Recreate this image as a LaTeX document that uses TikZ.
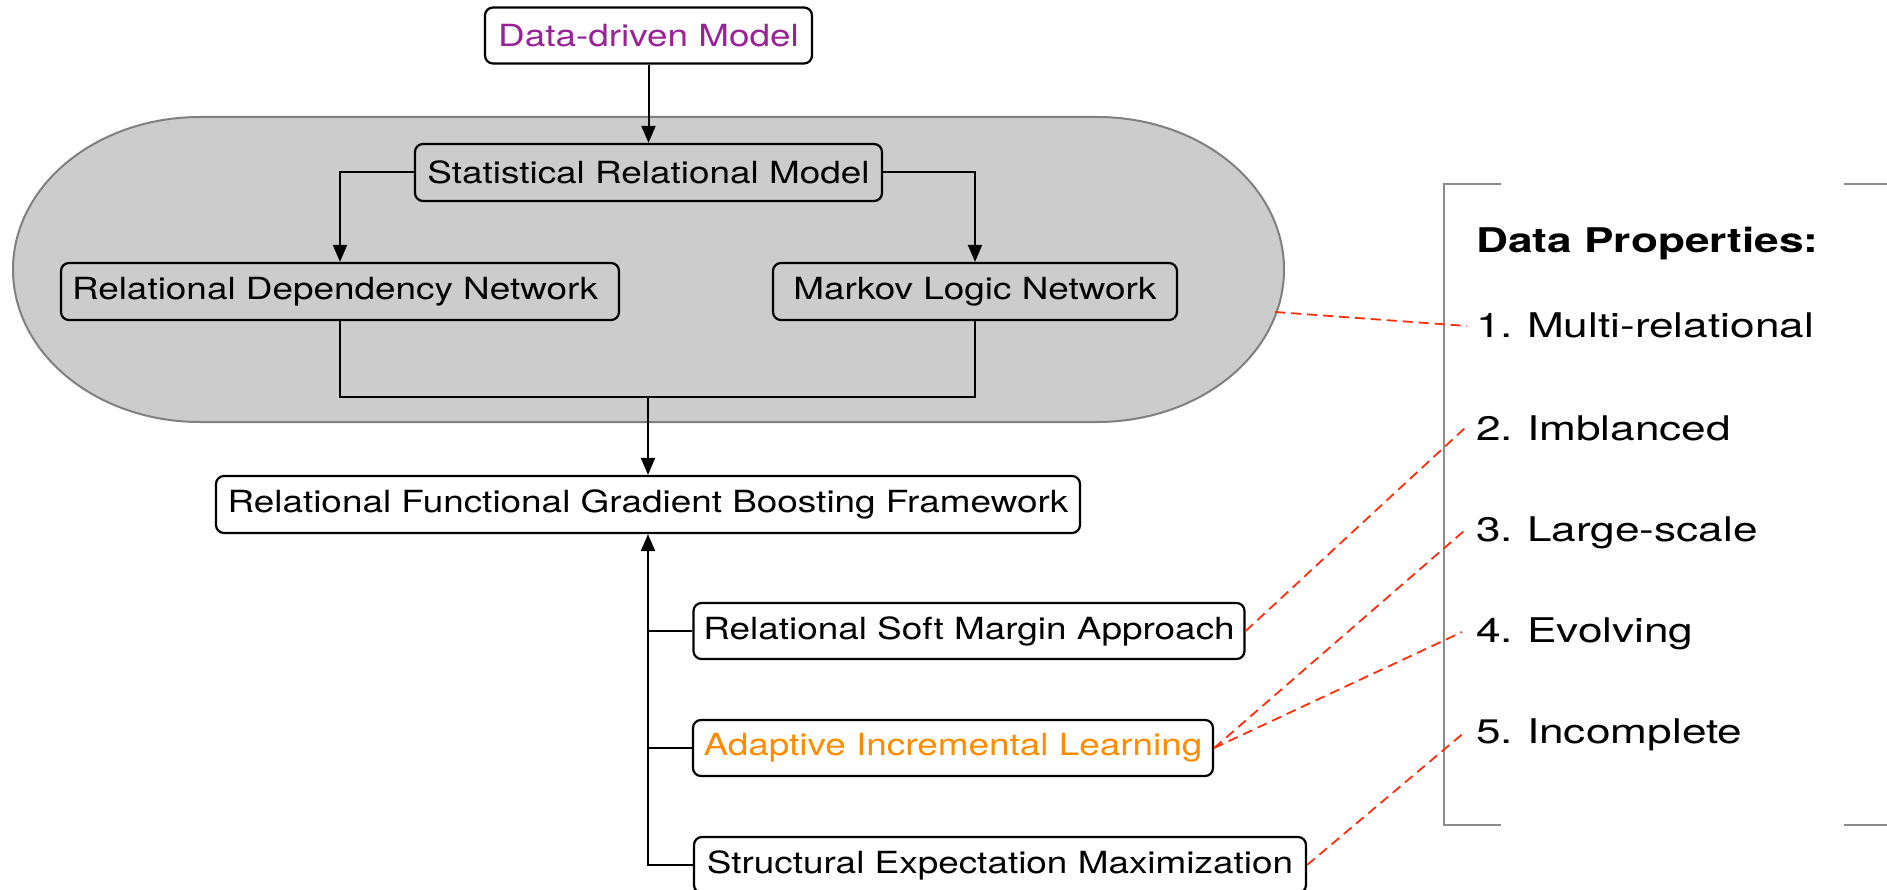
\documentclass[tikz,border=0pt]{standalone}
\usepackage{fontspec}
\usetikzlibrary{arrows.meta}
\newfontfamily\boxfont[FakeStretch=1.21]{TeX Gyre Heros}
\newfontfamily\propfont[FakeStretch=1.3]{TeX Gyre Heros}
\definecolor{ddpurple}{RGB}{153,34,153}
\definecolor{ailorange}{RGB}{255,140,0}
\definecolor{linkred}{RGB}{255,45,10}
\definecolor{srmfill}{RGB}{204,204,204}
\definecolor{srmedge}{RGB}{128,128,128}
\definecolor{bracketgray}{RGB}{140,140,140}
\newcommand{\numgap}{\hspace{14pt}}

\begin{document}
\begin{tikzpicture}[x=1pt,y=-1pt,
  box/.style={draw=black, line width=2.2pt, rounded corners=8pt, inner sep=0pt,
              minimum height=56pt, font=\boxfont\fontsize{30.5}{36}\selectfont},
  conn/.style={line width=2pt, draw=black},
  arr/.style={conn, -{Triangle[length=17pt,width=14pt]}},
  link/.style={draw=linkred, line width=1.8pt, dash pattern=on 10pt off 6pt},
  prop/.style={anchor=base west, inner sep=0pt, font=\propfont\fontsize{34}{40}\selectfont},
  bracket/.style={draw=bracketgray, line width=2pt},
]
\useasboundingbox (0,0) rectangle (1887,890);

% grey capsule grouping the statistical relational models
\draw[fill=srmfill, draw=srmedge, line width=2pt]
  (200,117) -- (1097,117)
  arc[start angle=-90, end angle=90, x radius=187, y radius=152.5]
  -- (200,422)
  arc[start angle=90, end angle=270, x radius=187, y radius=152.5]
  -- cycle;

% model boxes
\node[box, minimum width=327pt, text=ddpurple] (DDM) at (648.5,35.5) {Data-driven Model};
\node[box, minimum width=467pt, minimum height=57pt] (SRM) at (648.5,172.5) {Statistical Relational Model};
\node[box, minimum height=57pt, text width=536pt, inner xsep=11pt, align=left] (RDN) at (340,291.5) {Relational Dependency Network};
\node[box, minimum width=404pt, minimum height=57pt] (MLN) at (975,291.5) {Markov Logic Network};
\node[box, minimum width=864pt, minimum height=57pt] (RFGB) at (648,504.5) {Relational Functional Gradient Boosting Framework};
\node[box, minimum width=551pt] (RSMA) at (969,631) {Relational Soft Margin Approach};
\node[box, minimum width=520pt, text=ailorange] (AIL) at (953,748) {Adaptive Incremental Learning};
\node[box, minimum width=612pt] (SEM) at (1000,865) {Structural Expectation Maximization};

% connectors
\draw[arr] (DDM) -- (SRM);
\draw[arr] (SRM.west) -| (RDN.north);
\draw[arr] (SRM.east) -| (MLN.north);
\coordinate (J) at (648,397);
\draw[conn] (RDN.south) |- (J) -| (MLN.south);
\draw[arr] (J) -- (RFGB.north);
\draw[arr] (SEM.west) -| (RFGB.south);
\draw[conn] (RSMA.west) -- (RSMA.west -| RFGB.south);
\draw[conn] (AIL.west) -- (AIL.west -| RFGB.south);

% data properties panel
\draw[bracket] (1501,184) -- (1444,184) -- (1444,825) -- (1501,825);
\draw[bracket] (1844,184) -- (1887,184);
\draw[bracket] (1844,825) -- (1887,825);

\node[prop] (PH) at (1476,253) {\bfseries Data Properties:};
\node[prop] (P1t) at (1476,338) {1.\numgap Multi-relational};
\node[prop] (P2t) at (1476,440) {2.\numgap Imblanced};
\node[prop] (P3t) at (1476,541) {3.\numgap Large-scale};
\node[prop] (P4t) at (1476,642) {4.\numgap Evolving};
\node[prop] (P5t) at (1476,743) {5.\numgap Incomplete};

% dashed links from methods to the properties they address
\coordinate (E1) at (1275,312);
\coordinate (P1) at (1467,326);
\coordinate (P2) at (1466,427);
\coordinate (P3) at (1465,530);
\coordinate (P4) at (1462,632);
\coordinate (P5) at (1466,731);
\draw[link] (E1) -- (P1);
\draw[link] (RSMA.east) -- (P2);
\draw[link] (AIL.east) -- (P3);
\draw[link] (AIL.east) -- (P4);
\draw[link] (SEM.east) -- (P5);
\end{tikzpicture}
\end{document}
